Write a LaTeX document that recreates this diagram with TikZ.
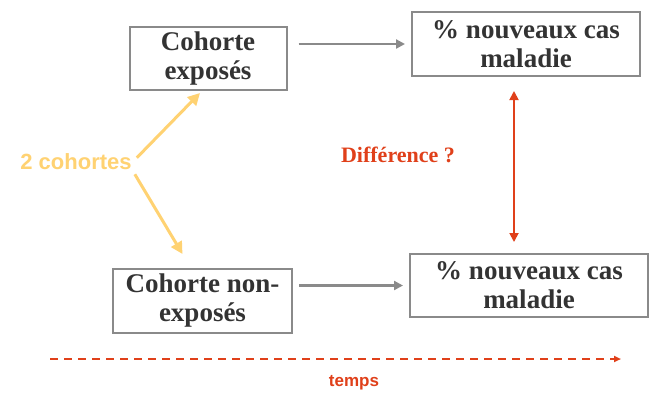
\documentclass[tikz,border=0pt]{standalone}
\usepackage{fontspec}
\setmainfont{Liberation Serif}
\newfontfamily\arialfont{Liberation Sans}
\usetikzlibrary{arrows.meta}
\definecolor{boxgray}{HTML}{8A8A8A}
\definecolor{txtgray}{HTML}{333333}
\definecolor{cohyellow}{HTML}{FFD272}
\definecolor{diffred}{HTML}{E0401A}
\tikzset{
  cbox/.style={draw=boxgray, line width=2pt, align=center, inner sep=0pt,
    text=txtgray, font=\bfseries\fontsize{27}{29}\selectfont},
  grayarrow/.style={draw=boxgray, line width=2.2pt, -{Triangle[length=9pt,width=9pt]}},
  yelarrow/.style={draw=cohyellow, line width=3pt, -{Triangle[length=12pt,width=12pt]}},
  redarrow/.style={draw=diffred, line width=1.8pt, {Triangle[length=9pt,width=9pt]}-{Triangle[length=9pt,width=9pt]}},
  timearrow/.style={draw=diffred, line width=1.8pt, dash pattern=on 8pt off 6pt, -{Triangle[length=7pt,width=6pt]}}
}
\begin{document}
\begin{tikzpicture}[x=1pt,y=-1pt]
\useasboundingbox[fill=white] (0,0) rectangle (651,405);
\node[cbox, minimum width=157pt, minimum height=63pt] (A) at (208,58.5) {Cohorte\\exposés};
\node[cbox, minimum width=228pt, minimum height=64pt] (B) at (526,44) {\% nouveaux cas\\maladie};
\node[cbox, minimum width=179pt, minimum height=64pt] (C) at (202.5,301) {Cohorte non-\\exposés};
\node[cbox, minimum width=238pt, minimum height=63pt] (D) at (529,285.5) {\% nouveaux cas\\maladie};
\node[text=cohyellow, font=\arialfont\bfseries\fontsize{22}{24}\selectfont, inner sep=0pt] (coh) at (76,162) {2 cohortes};
\node[text=diffred, font=\bfseries\fontsize{22}{24}\selectfont, inner sep=0pt] (diff) at (398,155) {Différence ?};
\node[text=diffred, font=\arialfont\bfseries\fontsize{17}{19}\selectfont, inner sep=0pt] (temps) at (354,383) {temps};
\draw[grayarrow] ([xshift=11pt]A.east |- B.west) -- ([xshift=-6pt]B.west);
\draw[grayarrow] ([xshift=6pt]C.east |- D.west) -- ([xshift=-6pt]D.west);
\draw[redarrow] ([xshift=-12pt,yshift=-14pt]B.south) -- ([xshift=-15pt,yshift=11pt]D.north);
\draw[yelarrow] ([xshift=5pt,yshift=-4pt]coh.north east) -- ([xshift=-8pt,yshift=-2pt]A.south);
\draw[yelarrow] ([xshift=3pt,yshift=-4pt]coh.south east) -- ([xshift=-20pt,yshift=14pt]C.north);
\coordinate (t0) at (50,359);
\coordinate (t1) at (621,359);
\draw[timearrow] (t0) -- (t1);
\end{tikzpicture}
\end{document}
